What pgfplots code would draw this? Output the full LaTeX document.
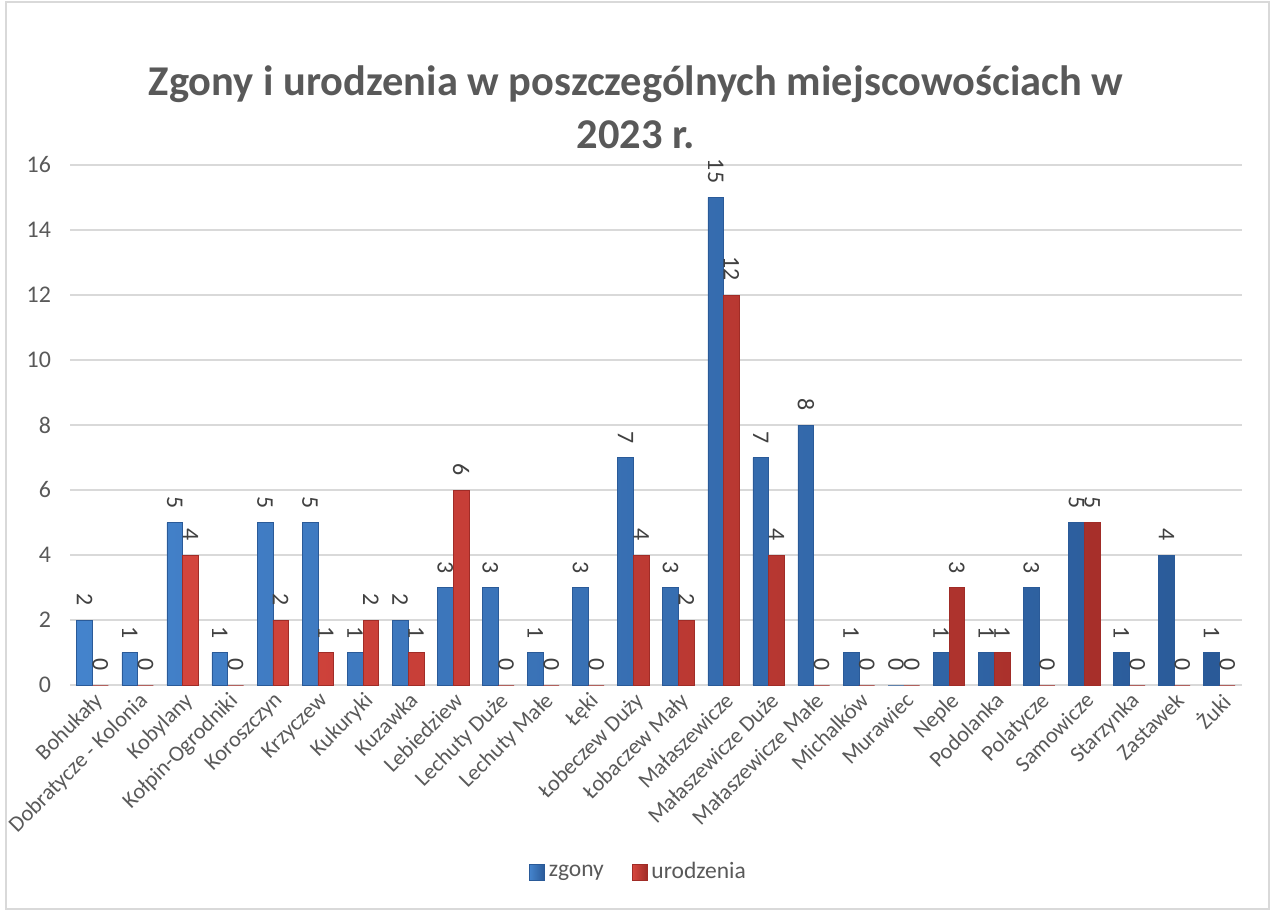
\documentclass[border=0pt]{standalone}
\usepackage{fontspec}
\setmainfont{Carlito}
\usepackage{pgfplots}
\pgfplotsset{compat=1.18}
\definecolor{tc}{HTML}{595959}
\definecolor{lc}{HTML}{404040}
\definecolor{gridc}{HTML}{D9D9D9}
\definecolor{bl1}{HTML}{4483CC}
\definecolor{bl2}{HTML}{2A5A98}
\definecolor{rd1}{HTML}{D8473F}
\definecolor{rd2}{HTML}{A02C27}
\begin{document}
\begin{tikzpicture}
\useasboundingbox (-35bp,-113bp) rectangle (600.5bp,342.5bp);
\draw[gridc, line width=0.8bp] (-32bp,341.5bp) rectangle (599.5bp,-112bp);
\node[font=\bfseries\fontsize{21.3}{26.5}\selectfont, text=tc, align=center] at (283bp,289bp)
  {Zgony i urodzenia w poszczególnych miejscowościach w\\2023 r.};
\begin{axis}[
  at={(0,0)}, anchor=south west,
  scale only axis, width=586bp, height=260bp,
  xmin=-0.5, xmax=25.5, ymin=0, ymax=16,
  ybar, bar width=0.35,
  ytick={0,2,...,16},
  xtick={0,...,25},
  xticklabels={Bohukały,Dobratycze - Kolonia,Kobylany,Kołpin-Ogrodniki,Koroszczyn,Krzyczew,Kukuryki,Kuzawka,Lebiedziew,Lechuty Duże,Lechuty Małe,Łęki,Łobeczew Duży,Łobaczew Mały,Małaszewicze,Małaszewicze Duże,Małaszewicze Małe,Michalków,Murawiec,Neple,Podolanka,Polatycze,Samowicze,Starzynka,Zastawek,Żuki},
  x tick label style={rotate=45, anchor=north east, font=\fontsize{11.2}{13}\selectfont, text=tc, inner sep=1bp, xshift=-1bp, yshift=-1bp},
  y tick label style={font=\fontsize{12}{14}\selectfont, text=tc},
  /pgf/number format/assume math mode=true,
  major tick length=0pt,
  axis x line=bottom, axis y line=left,
  x axis line style={-, draw=gridc, line width=1.2bp},
  y axis line style={draw=none},
  ymajorgrids, grid style={draw=gridc, line width=0.8bp},
  yticklabel style={xshift=-6bp},
  nodes near coords,
  every node near coord/.append style={rotate=-90, anchor=east, font=\fontsize{12}{14}\selectfont, text=lc, inner xsep=7bp, inner ysep=1bp},
  legend style={at={(0.486,-0.36)}, anchor=center, draw=none, legend columns=2, font=\fontsize{11.8}{13}\selectfont, text=tc, /tikz/every even column/.append style={column sep=12bp}},
  area legend,
  legend image code/.code={\path[#1] (0bp,-3.8bp) rectangle (7.5bp,3.8bp);},
  clip=false,
]
\addplot[bar shift=-0.175, draw=bl2, line width=0.3bp, left color=bl1, right color=bl2] coordinates {
(0,2)(1,1)(2,5)(3,1)(4,5)(5,5)(6,1)(7,2)(8,3)(9,3)(10,1)(11,3)(12,7)(13,3)(14,15)(15,7)(16,8)(17,1)(18,0)(19,1)(20,1)(21,3)(22,5)(23,1)(24,4)(25,1)};
\addplot[bar shift=0.175, draw=rd2, line width=0.3bp, left color=rd1, right color=rd2] coordinates {
(0,0)(1,0)(2,4)(3,0)(4,2)(5,1)(6,2)(7,1)(8,6)(9,0)(10,0)(11,0)(12,4)(13,2)(14,12)(15,4)(16,0)(17,0)(18,0)(19,3)(20,1)(21,0)(22,5)(23,0)(24,0)(25,0)};
\legend{zgony,urodzenia}
\end{axis}
\end{tikzpicture}
\end{document}
